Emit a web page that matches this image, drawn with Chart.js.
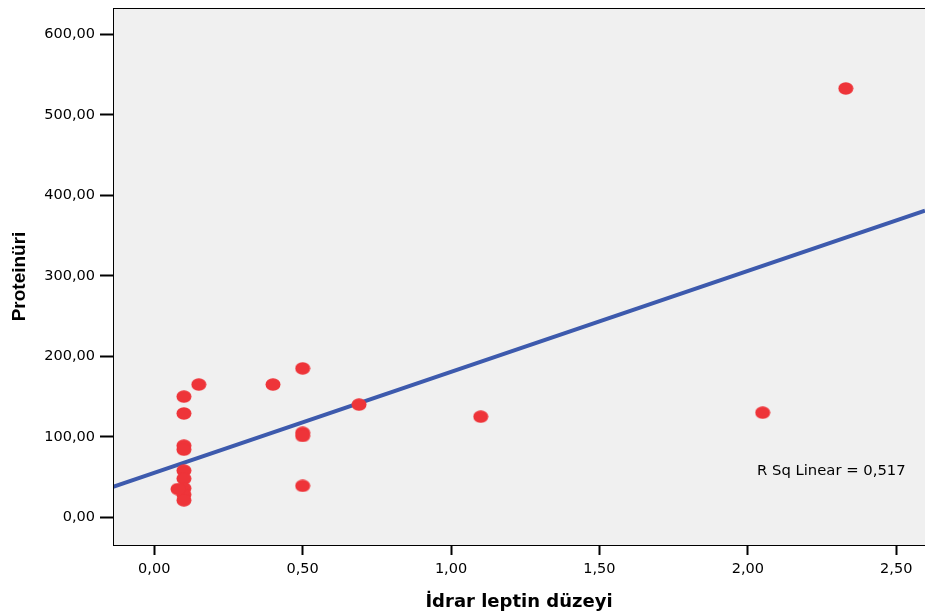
<!DOCTYPE html>
<html>
<head>
<meta charset="utf-8">
<script src="https://cdn.jsdelivr.net/npm/chart.js@4"></script>
<style>
html,body{margin:0;padding:0;background:#ffffff;}
canvas{display:block;}
</style>
</head>
<body>
<canvas id="c" width="925" height="613"></canvas>
<script>
// Data
const leptinValues = [0.10,0.10,0.10,0.10,0.10,0.10,0.10,0.10,0.10,0.08,0.15,0.40,0.50,0.50,0.50,0.50,0.69,1.10,2.05,2.33];
const proteinuriValues = [150,129,89,84,58,48,36,28,21,35,165,165,185,105,101,39,140,125,130,533];
// Fitted regression line (endpoints read at the plot edges)
const fitX = [-0.139, 2.597];
const fitY = [37.7, 381];
const xTickValues = [0.0,0.5,1.0,1.5,2.0,2.5];
const yTickValues = [0,100,200,300,400,500,600];
const xTitle = 'İdrar leptin düzeyi';
const yTitle = 'Proteinüri';
const rSqLabel = 'R Sq Linear = 0,517';

function fmt(v){ return v.toFixed(2).replace('.', ','); }

// elliptical marker
const marker = document.createElement('canvas');
marker.width = 16; marker.height = 13;
(function(){
  const m = marker.getContext('2d');
  m.fillStyle = '#ee3439';
  m.beginPath();
  m.ellipse(8, 6.5, 7.5, 6.2, 0, 0, Math.PI*2);
  m.fill();
})();

const frame = {
  id: 'frame',
  beforeDraw(chart){
    const {ctx, chartArea:a} = chart;
    ctx.save();
    ctx.fillStyle = '#f0f0f0';
    ctx.fillRect(a.left, a.top, a.right-a.left, a.bottom-a.top);
    ctx.restore();
  },
  afterDatasetsDraw(chart){
    const {ctx, chartArea:a} = chart;
    ctx.save();
    ctx.strokeStyle = '#000';
    ctx.lineWidth = 1;
    ctx.strokeRect(a.left+0.5, a.top+0.5, a.right-a.left, a.bottom-a.top);
    ctx.fillStyle = '#000';
    ctx.font = '14.8px "DejaVu Sans"';
    ctx.textBaseline = 'middle';
    ctx.textAlign = 'left';
    ctx.fillText(rSqLabel, 757, 471);
    ctx.restore();
  }
};

new Chart(document.getElementById('c'), {
  type: 'scatter',
  data: {
    datasets: [
      {
        label: 'Proteinüri',
        data: leptinValues.map((x,i)=>({x:x, y:proteinuriValues[i]})),
        pointStyle: marker,
        pointRadius: 7,
        pointHoverRadius: 7,
        order: 1
      },
      {
        label: 'Fit',
        data: fitX.map((x,i)=>({x:x, y:fitY[i]})),
        showLine: true,
        borderColor: '#3d5aad',
        borderWidth: 4,
        pointRadius: 0,
        fill: false,
        order: 2
      }
    ]
  },
  options: {
    responsive: false,
    devicePixelRatio: 1,
    animation: false,
    events: [],
    layout: { autoPadding: false, padding: { top: 8, right: 0, left: 0, bottom: 0 } },
    plugins: { legend: { display: false }, tooltip: { enabled: false } },
    scales: {
      x: {
        type: 'linear',
        min: -0.139,
        max: 2.597,
        afterFit(s){ s.height = 68; s.paddingLeft = 0; s.paddingRight = 0; },
        afterBuildTicks(s){ s.ticks = xTickValues.map(v=>({value:v})); },
        grid: { drawOnChartArea: false, drawTicks: true, tickLength: 10, tickColor: '#000', tickWidth: 2 },
        border: { display: false },
        ticks: {
          color: '#000',
          padding: 6,
          maxRotation: 0,
          autoSkip: false,
          font: { family: '"DejaVu Sans"', size: 14.5 },
          callback: v => fmt(v)
        },
        title: {
          display: true,
          text: xTitle,
          color: '#000',
          padding: { top: 3, bottom: 0 },
          font: { family: '"DejaVu Sans"', size: 18, weight: 'bold' }
        }
      },
      y: {
        type: 'linear',
        min: -34.5,
        max: 633,
        afterFit(s){ s.width = 113; s.paddingTop = 0; s.paddingBottom = 0; },
        afterBuildTicks(s){ s.ticks = yTickValues.map(v=>({value:v})); },
        grid: { drawOnChartArea: false, drawTicks: true, tickLength: 13, tickColor: '#000', tickWidth: 2 },
        border: { display: false },
        ticks: {
          color: '#000',
          padding: 5,
          autoSkip: false,
          font: { family: '"DejaVu Sans"', size: 14.5 },
          callback: v => fmt(v)
        },
        title: {
          display: true,
          text: yTitle,
          color: '#000',
          padding: { top: 8, bottom: 0 },
          font: { family: '"Liberation Sans"', size: 19, weight: 'bold' }
        }
      }
    }
  },
  plugins: [frame]
});
</script>
</body>
</html>
